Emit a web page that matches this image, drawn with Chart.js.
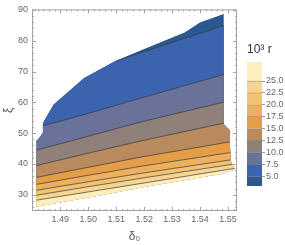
<!DOCTYPE html>
<html>
<head>
<meta charset="utf-8">
<script src="https://cdn.jsdelivr.net/npm/chart.js"></script>
<style>
  html, body { margin: 0; padding: 0; background: #fff; }
  #wrap { position: relative; width: 285px; height: 245px; }
  #wrap canvas { position: absolute; left: 0; top: 0; }
</style>
</head>
<body>
<div id="wrap">
  <canvas id="plot" width="285" height="245"></canvas>
  <canvas id="bar" width="285" height="245"></canvas>
</div>
<script>
// axes
const xTicks = [1.49, 1.50, 1.51, 1.52, 1.53, 1.54, 1.55];
const yTicks = [30, 40, 50, 60, 70, 80, 90];

// contour levels (10^3 r) and band colours, low r -> high r
const levels = [5.0, 7.5, 10.0, 12.5, 15.0, 17.5, 20.0, 22.5, 25.0];
const bandColors = ['#2c5892', '#3c64ae', '#6a7299', '#8f8179', '#b98a5e',
  '#e49e48', '#ecb05f', '#f2c277', '#f7d590', '#fdeec0'];
const rMin = 2.9;
const rMax = 29.0;

// outline of the computed region (delta0, xi)
const regionX = [1.4815, 1.4815, 1.4826, 1.4838, 1.4838, 1.4876, 1.4985, 1.5100, 1.5190,
  1.5345, 1.5400, 1.5485, 1.5485, 1.5505, 1.5509, 1.5525, 1.5482, 1.5188, 1.5044, 1.4815];
const regionY = [26.2, 47.5, 48.6, 50.2, 53.3, 59.3, 67.9, 73.6, 77.0,
  82.8, 86.0, 88.8, 52.9, 51.0, 40.9, 38.3, 36.9, 32.3, 29.8, 26.2];

// contour lines, xi at each delta0 in contourX
const contourX = [1.478, 1.50, 1.52, 1.556];
const line5 = [64.1, 70.6, 76.5, 87.2];
const line7p5 = [50.9, 56.4, 61.7, 71.0];
const line10 = [43.6, 49.0, 53.9, 61.7];
const line12p5 = [38.7, 43.5, 47.7, 54.7];
const line15 = [35.0, 38.9, 42.4, 48.0];
const line17p5 = [32.8, 36.3, 39.4, 44.4];
const line20 = [30.9, 34.2, 37.1, 42.0];
const line22p5 = [29.3, 32.6, 35.5, 40.5];
const line25 = [27.7, 30.9, 33.8, 39.1];
const contourLines = [line5, line7p5, line10, line12p5, line15, line17p5, line20, line22p5, line25];

const FONT = 'Liberation Sans, Arial, sans-serif';

function toPoints(xs, ys) {
  return xs.map((x, i) => ({ x, y: ys[i] }));
}

// clip all marks to the region outline
const regionClip = {
  id: 'regionClip',
  beforeDatasetsDraw(chart) {
    const { ctx, scales: { x, y } } = chart;
    ctx.save();
    ctx.beginPath();
    regionX.forEach((v, i) => {
      const px = x.getPixelForValue(v);
      const py = y.getPixelForValue(regionY[i]);
      if (i) ctx.lineTo(px, py); else ctx.moveTo(px, py);
    });
    ctx.closePath();
    ctx.clip();
  },
  afterDatasetsDraw(chart) {
    chart.ctx.restore();
  },
};

// mathematica-style frame with inward ticks on all sides
const frameTicks = {
  id: 'frameTicks',
  afterDraw(chart) {
    const { ctx, chartArea: a, scales: { x, y } } = chart;
    ctx.save();
    ctx.strokeStyle = '#a3a3a3';
    ctx.lineWidth = 1;
    ctx.strokeRect(a.left + 0.5, a.top + 0.5, a.width - 1, a.height - 1);
    ctx.beginPath();
    for (let v = 1.48; v <= 1.5532; v += 0.002) {
      const px = Math.round(x.getPixelForValue(v)) + 0.5;
      const major = xTicks.some(t => Math.abs(t - v) < 1e-6);
      const len = major ? 4 : 2;
      ctx.moveTo(px, a.bottom); ctx.lineTo(px, a.bottom - len);
      ctx.moveTo(px, a.top); ctx.lineTo(px, a.top + len);
    }
    for (let v = 26; v <= 90; v += 2) {
      const py = Math.round(y.getPixelForValue(v)) + 0.5;
      const major = v % 10 === 0;
      const len = major ? 4 : 2;
      ctx.moveTo(a.left, py); ctx.lineTo(a.left + len, py);
      ctx.moveTo(a.right, py); ctx.lineTo(a.right - len, py);
    }
    ctx.stroke();
    ctx.restore();
  },
};

// dataset 0 is painted last, so highest level first and the region at the end
const datasets = contourLines.map((ys, i) => ({
  label: String(levels[i]),
  data: toPoints(contourX, ys),
  borderColor: 'rgba(55,55,55,0.85)',
  borderWidth: 0.8,
  backgroundColor: bandColors[i + 1],
  fill: 'start',
  pointRadius: 0,
  tension: 0,
})).reverse();

datasets.push({
  label: 'region',
  data: toPoints(regionX, regionY),
  borderWidth: 0,
  borderColor: 'rgba(0,0,0,0)',
  backgroundColor: bandColors[0],
  fill: 'shape',
  pointRadius: 0,
  tension: 0,
});

new Chart(document.getElementById('plot'), {
  type: 'line',
  data: { datasets },
  plugins: [regionClip, frameTicks],
  options: {
    responsive: false,
    animation: false,
    layout: { padding: { top: 5, right: 48, bottom: 0, left: 0 } },
    plugins: { legend: { display: false }, tooltip: { enabled: false } },
    scales: {
      x: {
        type: 'linear',
        min: 1.4799,
        max: 1.5532,
        grid: { display: false, drawTicks: false },
        border: { display: false },
        afterBuildTicks: s => { s.ticks = xTicks.map(v => ({ value: v })); },
        afterFit: s => { s.height = 34; },
        ticks: {
          autoSkip: false, maxRotation: 0, padding: 3,
          color: '#666', font: { family: FONT, size: 9 },
          callback: v => v.toFixed(2),
        },
        title: {
          display: true, text: 'δ₀', color: '#555',
          font: { family: FONT, size: 12 }, padding: { top: 1, bottom: 1 },
        },
      },
      y: {
        type: 'linear',
        min: 24.7,
        max: 90.2,
        grid: { display: false, drawTicks: false },
        border: { display: false },
        afterBuildTicks: s => { s.ticks = yTicks.map(v => ({ value: v })); },
        afterFit: s => { s.width = 32; },
        ticks: {
          autoSkip: false, padding: 4,
          color: '#666', font: { family: FONT, size: 9 },
        },
        title: {
          display: true, text: 'ξ', color: '#555',
          font: { family: FONT, size: 12 }, padding: { top: 1, bottom: 1 },
        },
      },
    },
  },
});

// colour bar legend
const barSets = bandColors.map((c, i) => ({
  label: 'band' + i,
  data: [[i === 0 ? rMin : levels[i - 1], i === levels.length ? rMax : levels[i]]],
  backgroundColor: c,
  borderColor: 'rgba(90,70,50,0.55)',
  borderWidth: i === levels.length ? 0 : { top: 0.8, bottom: 0, left: 0, right: 0 },
  borderSkipped: false,
  barPercentage: 1,
  categoryPercentage: 1,
}));

new Chart(document.getElementById('bar'), {
  type: 'bar',
  data: { labels: [''], datasets: barSets },
  options: {
    responsive: false,
    animation: false,
    layout: { padding: { top: 35, right: 0, bottom: 59, left: 247 } },
    plugins: {
      legend: { display: false },
      tooltip: { enabled: false },
      title: {
        display: true, text: '10³ r', align: 'start', color: '#333',
        font: { family: FONT, size: 12, weight: 'normal' },
        padding: { top: 7, bottom: 5.6 },
      },
    },
    scales: {
      x: { display: false, stacked: true },
      y: {
        position: 'right',
        min: rMin,
        max: rMax,
        grid: { drawOnChartArea: false, tickLength: 3, color: '#999' },
        border: { display: false },
        afterBuildTicks: s => { s.ticks = levels.map(v => ({ value: v })); },
        afterFit: s => { s.width = 23; },
        ticks: {
          autoSkip: false, padding: 1,
          color: '#666', font: { family: FONT, size: 9 },
          callback: v => v.toFixed(1),
        },
      },
    },
  },
});
</script>
</body>
</html>
